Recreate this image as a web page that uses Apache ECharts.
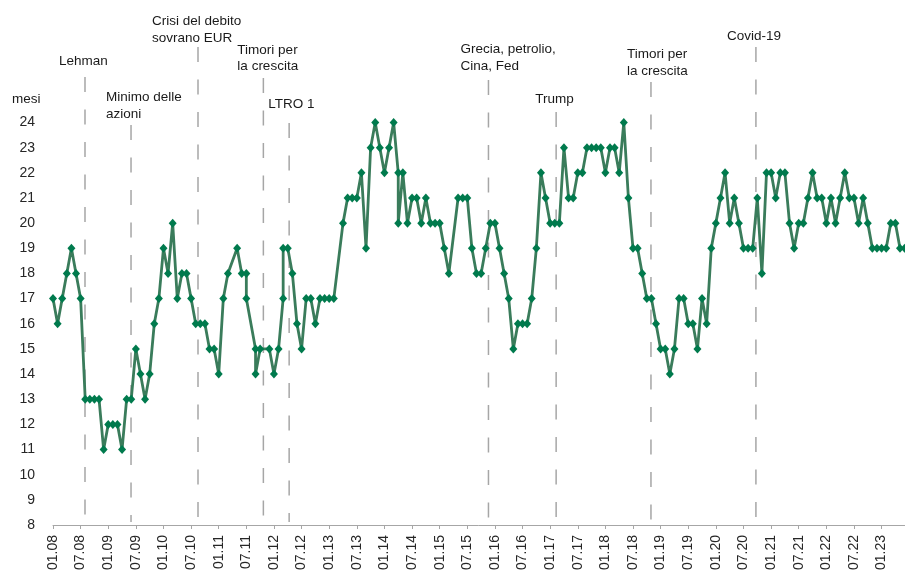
<!DOCTYPE html>
<html><head><meta charset="utf-8">
<script src="https://cdn.jsdelivr.net/npm/echarts@6/dist/echarts.min.js"></script>
<style>html,body{margin:0;padding:0;background:#fff}#c{width:905px;height:577px}</style>
</head><body><div id="c"></div>
<script>
// x tick labels, one every 6 months starting 01.08
const xTickLabels = ['01.08','07.08','01.09','07.09','01.10','07.10','01.11','07.11','01.12','07.12','01.13','07.13','01.14','07.14','01.15','07.15','01.16','07.16','01.17','07.17','01.18','07.18','01.19','07.19','01.20','07.20','01.21','07.21','01.22','07.22','01.23'];
const lastMonth = 185; // 06.23, months counted from 01.08 = 0

// observation month (months since 01.08) and value (mesi)
const obsMonth = [0,1,2,3,4,5,6,7,8,9,10,11,12,13,14,15,16,17,18,19,20,21,22,23,24,25,26,27,28,29,
  30,31,32,33,34,35,36,37,38,40,41,42,42,44,44,45,47,48,49,50,50,51,52,53,54,55,56,57,58,59,60,61,
  63,64,65,66,67,68,69,70,71,72,73,74,75,75,76,77,78,79,80,81,82,83,84,85,86,
  88,89,90,91,92,93,94,95,96,97,98,99,100,101,102,103,104,105,106,107,108,109,110,111,112,113,114,115,
  116,117,118,119,120,121,122,123,124,125,126,127,128,129,130,131,132,133,134,135,136,137,138,139,140,
  141,142,143,144,145,146,147,148,149,150,151,152,153,154,155,156,157,158,159,160,161,162,163,164,165,
  166,167,168,169,170,171,172,173,174,175,176,177,178,179,180,181,182,183,184,185];
const obsValue = [17,16,17,18,19,18,17,13,13,13,13,11,12,12,12,11,13,13,15,14,13,14,16,17,19,18,20,17,18,18,
  17,16,16,16,15,15,14,17,18,19,18,18,17,15,14,15,15,14,15,17,19,19,18,16,15,17,17,16,17,17,17,17,
  20,21,21,21,22,19,23,24,23,22,23,24,22,20,22,20,21,21,20,21,20,20,20,19,18,
  21,21,21,19,18,18,19,20,20,19,18,17,15,16,16,16,17,19,22,21,20,20,20,23,21,21,22,22,
  23,23,23,23,22,23,23,22,24,21,19,19,18,17,17,16,15,15,14,15,17,17,16,16,15,
  17,16,19,20,21,22,20,21,20,19,19,19,21,18,22,22,21,22,22,20,19,20,20,21,22,
  21,21,20,21,20,21,22,21,21,20,21,20,19,19,19,19,20,20,19,19];

// events (month position since 01.08)
const eventMonth = [6.95, 16.95, 31.5, 45.7, 51.3, 94.6, 109.3, 129.9, 152.7];
const eventLabel = ['Lehman','Minimo delle\nazioni','Crisi del debito\nsovrano EUR','Timori per\nla crescita','LTRO 1','Grecia, petrolio,\nCina, Fed','Trump','Timori per\nla crescita','Covid-19'];
// layout in pixels: [text dx from line, text top, line top]
const eventLayout = [[-26,53.5,77],[-25,89.5,125],[-46,13.5,47],[-26,42,78],[-21,96.5,123],[-28,41.5,80],[-21,91.5,112],[-24,46.5,82],[-29,28.5,47]];

const FONT = '"Liberation Sans", Arial, Helvetica, sans-serif';
const chart = echarts.init(document.getElementById('c'), null, {renderer:'canvas'});
chart.setOption({
  backgroundColor:'#ffffff',
  animation:false,
  grid:{left:53, right:0.4, top:122.5, bottom:52, containLabel:false},
  xAxis:{
    type:'value', min:0, max:lastMonth, interval:6,
    axisLine:{show:true, lineStyle:{color:'#a6a6a6', width:1}},
    axisTick:{show:true, length:4, lineStyle:{color:'#a6a6a6'}},
    splitLine:{show:false},
    axisLabel:{
      rotate:90, margin:10, fontSize:14, color:'#262626', fontFamily:FONT, showMaxLabel:false,
      formatter:v => (v % 6 === 0 && xTickLabels[v/6]) ? xTickLabels[v/6] : ''
    }
  },
  yAxis:{
    type:'value', min:8, max:24, interval:1,
    axisLine:{show:false}, axisTick:{show:false}, splitLine:{show:false},
    axisLabel:{margin:18, fontSize:14, color:'#262626', fontFamily:FONT}
  },
  graphic:[{type:'text', left:12, top:92, style:{text:'mesi', fontSize:13.5, fontFamily:FONT, fill:'#1a1a1a'}}],
  series:[
    {
      type:'custom', clip:false, z:1, silent:true,
      data: eventMonth.map(m => [m, 8]),
      renderItem:(params, api) => {
        const i = params.dataIndex;
        const p = api.coord([api.value(0), 8]);
        const L = eventLayout[i];
        return {type:'group', children:[
          {type:'line', shape:{x1:p[0], y1:L[2], x2:p[0], y2:p[1]-3},
           style:{stroke:'#a6a6a6', lineWidth:1.5, lineDash:[15,17.5]}},
          {type:'text', style:{text:eventLabel[i], x:p[0]+L[0], y:L[1], fontSize:13.5, fontFamily:FONT,
            fill:'#1a1a1a', lineHeight:16.5, align:'left', verticalAlign:'top'}}
        ]};
      }
    },
    {
      type:'line', z:3, clip:false,
      data: obsMonth.map((m, i) => [m, obsValue[i]]),
      symbol:'diamond', symbolSize:[8,9], showAllSymbol:true,
      lineStyle:{color:'#3a7c5b', width:2.8},
      itemStyle:{color:'#007a4d'}
    }
  ]
});
</script></body></html>
